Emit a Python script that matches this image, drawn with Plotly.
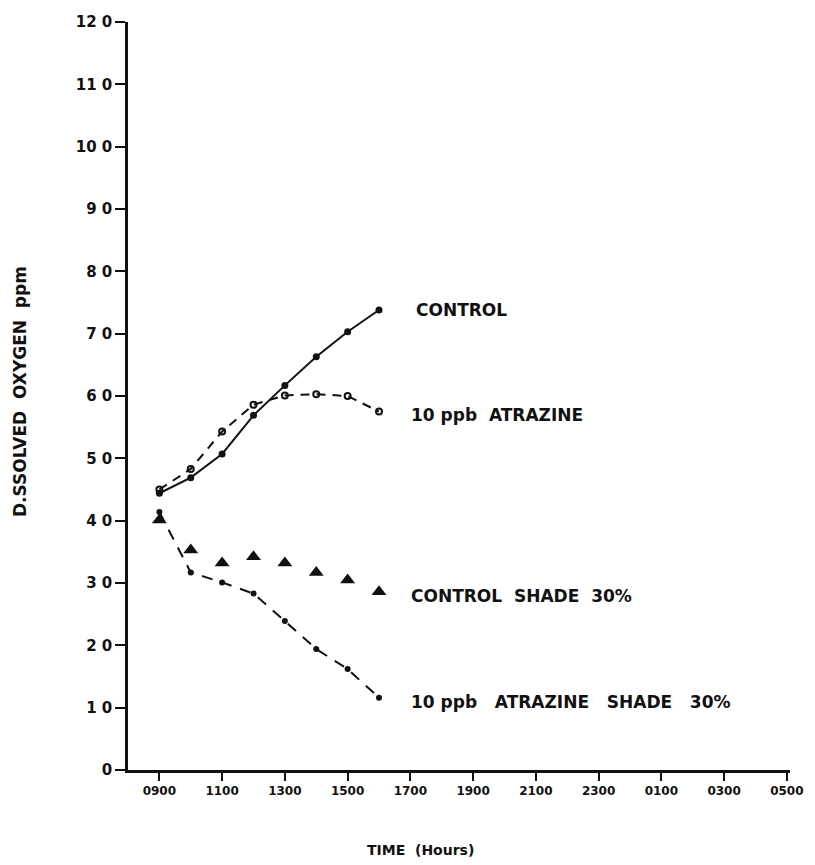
import plotly.graph_objects as go

# Sampling hours (24h clock; values past midnight continue as 25, 27, 29)
hours = [9, 10, 11, 12, 13, 14, 15, 16]

control = [44.4, 46.9, 50.7, 56.9, 61.7, 66.3, 70.3, 73.8]
atrazine = [45.0, 48.3, 54.3, 58.6, 60.1, 60.3, 60.0, 57.5]
control_shade = [40.1, 35.3, 33.2, 34.2, 33.2, 31.7, 30.5, 28.6]
atrazine_shade = [41.4, 31.7, 30.1, 28.3, 23.9, 19.4, 16.2, 11.6]

x_tick_vals = [9, 11, 13, 15, 17, 19, 21, 23, 25, 27, 29]
x_tick_text = ["0900", "1100", "1300", "1500", "1700", "1900",
               "2100", "2300", "0100", "0300", "0500"]
y_tick_vals = [0, 10, 20, 30, 40, 50, 60, 70, 80, 90, 100, 110, 120]
y_tick_text = ["0", "1 0", "2 0", "3 0", "4 0", "5 0", "6 0", "7 0",
               "8 0", "9 0", "10 0", "11 0", "12 0"]

labels = ["CONTROL", "10 ppb  ATRAZINE", "CONTROL  SHADE  30%",
          "10 ppb   ATRAZINE   SHADE   30%"]

FONT = "DejaVu Sans"
INK = "#111111"

fig = go.Figure()

fig.add_trace(go.Scatter(
    x=hours, y=control, mode="lines+markers",
    line=dict(color=INK, width=2),
    marker=dict(symbol="circle", size=7, color=INK),
    showlegend=False))

fig.add_trace(go.Scatter(
    x=hours, y=atrazine, mode="lines+markers",
    line=dict(color=INK, width=2, dash="9px,7px"),
    marker=dict(symbol="circle-open", size=6, color=INK, line=dict(width=2)),
    showlegend=False))

fig.add_trace(go.Scatter(
    x=hours, y=control_shade, mode="markers",
    marker=dict(symbol="triangle-up", size=13, color=INK),
    showlegend=False))

fig.add_trace(go.Scatter(
    x=hours, y=atrazine_shade, mode="lines+markers",
    line=dict(color=INK, width=2, dash="11px,9px"),
    marker=dict(symbol="circle", size=6, color=INK),
    showlegend=False))

# Series labels at the end of each curve
label_x = [17.1, 16.95, 16.95, 16.95]
label_y = [control[-1], atrazine[-1], control_shade[-1], atrazine_shade[-1]]
label_shift = [0, -3, -4, -4]
for lx, ly, ys, txt in zip(label_x, label_y, label_shift, labels):
    fig.add_annotation(
        x=lx, y=ly, text=txt, showarrow=False, xanchor="left",
        yanchor="middle", yshift=ys,
        font=dict(family=FONT, size=17, color=INK, weight="bold"))

# Axis titles
fig.add_annotation(
    x=(420 - 128) / (815 - 128 - 25), xref="paper",
    y=-(850 - 770) / (770 - 22), yref="paper",
    text="TIME  (Hours)", showarrow=False, xanchor="center", yanchor="middle",
    font=dict(family=FONT, size=14, color=INK, weight="bold"))
fig.add_annotation(
    x=-(128 - 20) / (815 - 128 - 25), xref="paper",
    y=(770 - 392) / (770 - 22), yref="paper",
    text="D.SSOLVED  OXYGEN  ppm", showarrow=False, textangle=-90,
    xanchor="center", yanchor="middle",
    font=dict(family=FONT, size=17, color=INK, weight="bold"))

fig.update_xaxes(
    range=[8, 29.1], tickvals=x_tick_vals, ticktext=x_tick_text,
    showline=True, linecolor=INK, linewidth=2.5, mirror=False,
    ticks="outside", ticklen=8, tickwidth=2, tickcolor=INK,
    showgrid=False, zeroline=False,
    tickfont=dict(family=FONT, size=12, color=INK, weight="bold"))

fig.update_yaxes(
    range=[0, 120], tickvals=y_tick_vals, ticktext=y_tick_text,
    showline=True, linecolor=INK, linewidth=2.5,
    ticks="outside", ticklen=10, tickwidth=2, tickcolor=INK,
    showgrid=False, zeroline=False,
    tickfont=dict(family=FONT, size=15, color=INK, weight="bold"))

fig.update_layout(
    width=815, height=865,
    margin=dict(l=128, r=25, t=22, b=95),
    plot_bgcolor="white", paper_bgcolor="white",
)

fig.write_html("out.html")
